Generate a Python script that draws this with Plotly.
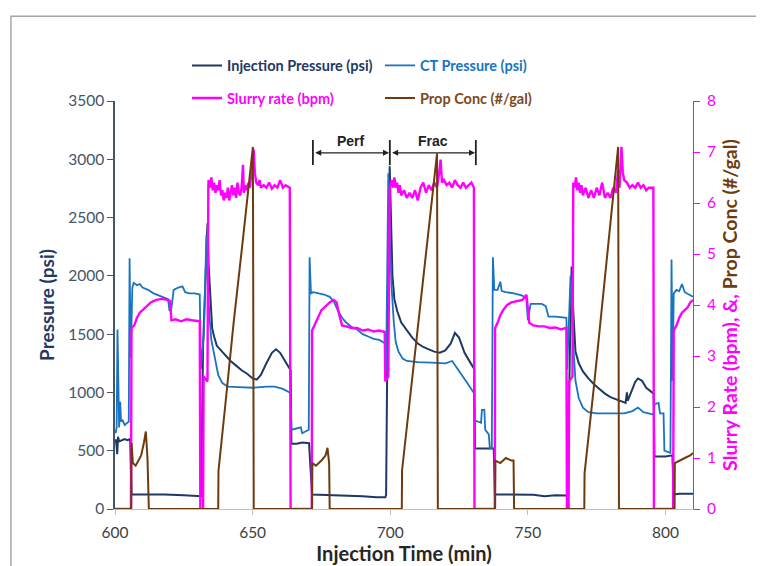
import plotly.graph_objects as go

# ---------------- data ----------------
inj_time = [600.2, 600.5, 600.8, 601.1, 601.5, 602.5, 603.5, 604.5, 605.5, 606.0,
            612, 618, 625, 630.9,
            631.3, 632.0, 633.2, 633.6, 634.0, 634.6, 635.3, 636, 637, 638.5, 640, 642, 644, 646, 648,
            650, 651.5, 653, 655, 657, 658.5, 660, 661.5, 663, 663.8,
            664.1, 666, 668, 670.5, 671.6,
            680, 690, 695, 698.2,
            698.5, 699.0, 699.8, 700.3, 700.8, 701.5, 702.5, 704, 706, 708, 710, 712, 714, 716, 718,
            720, 722, 723.5, 725, 727, 729, 730.5,
            730.8, 733, 736, 737.6, 738.0,
            745, 752, 756, 760, 764.1,
            764.4, 765.3, 765.9, 766.5, 767.3, 768.5, 770, 772, 774, 776, 778, 780, 782, 784, 785.5,
            786, 786.3, 787.5, 789, 790, 791.5, 793, 795.7,
            796, 800, 802.5, 803.0, 805, 810]
inj_psi = [600, 560, 470, 620, 580, 590, 600, 590, 600, 125,
           128, 125, 118, 110,
           110, 1400, 2100, 2450, 2100, 1800, 1550, 1480, 1400, 1360, 1320, 1270, 1230, 1190, 1160,
           1120, 1110, 1150, 1250, 1340, 1370, 1340, 1280, 1220, 1190,
           560, 560, 570, 565, 125,
           120, 110, 100, 100,
           120, 1500, 2940, 2400, 2000, 1800, 1700, 1600, 1530, 1470, 1420, 1390, 1370, 1350, 1340,
           1360, 1420, 1510, 1470, 1340, 1260, 1200,
           520, 520, 520, 520, 125,
           125, 122, 110, 118, 115,
           115, 1400, 2080, 1700, 1350, 1250, 1180, 1120, 1070, 1030, 990, 960, 940, 920, 910,
           1000, 930, 1000, 1090, 1120, 1100, 1040, 990,
           450, 450, 460, 125, 130, 130]

ct_time = [600.2, 600.6, 600.9, 601.2, 601.5, 601.9, 602.2, 602.8, 603.5, 604.5, 605.0, 605.3,
           605.7, 606.3, 606.8, 608, 609, 610, 612, 614, 616, 618, 619.3, 619.8, 620.5, 621.3,
           623, 624.5, 625.5, 627, 629, 630.8, 631.2, 632.3, 633.2, 633.8, 634.3, 635, 636.3,
           637.5, 639, 641, 645, 650, 655, 658, 661, 663.8,
           664.1, 666, 667.5, 668, 670.4, 670.7, 671.2, 672, 674, 676, 678, 679.5, 681, 682.5,
           684, 686, 688, 690, 692, 694, 696, 698.2, 698.5, 699.3, 699.9, 700.5, 701.3, 702,
           703, 704.5, 706, 710, 715, 720, 722.5, 724, 726, 728, 730.4,
           730.6, 733.0, 733.3, 734.2, 734.5, 735.8, 736.2, 736.9, 737.3, 737.8, 739, 740,
           740.5, 742, 745, 748, 749.5, 750, 751, 753, 755, 756.5, 757.5, 760, 764,
           764.3, 765.5, 766, 766.5, 767.3, 768.5, 770, 772, 775, 780, 785, 788, 790, 792, 795.7,
           796, 797.5, 798, 799.3, 799.6, 801.8, 802.2, 802.6, 803.0, 804, 805, 806, 807, 810]
ct_psi = [650, 700, 1540, 850, 700, 920, 750, 760, 720, 740, 750, 2150,
          1300, 1900, 1940, 1920, 1930, 1900, 1880, 1850, 1830, 1810, 1800, 1700, 1720, 1880,
          1900, 1910, 1860, 1850, 1850, 1840, 1200, 1500, 2350, 1900, 1650, 1450, 1300,
          1150, 1080, 1050, 1045, 1040, 1050, 1050, 1030, 995,
          680, 690, 700, 650, 680, 2160, 1850, 1860, 1850, 1840, 1820, 1780, 1700, 1640,
          1600, 1560, 1540, 1500, 1480, 1460, 1450, 1420, 1200, 2880, 2300, 1900, 1600, 1430,
          1350, 1290, 1270, 1260, 1255, 1250, 1270, 1220, 1150, 1080, 995,
          760, 740, 850, 850, 680, 640, 520, 520, 2160, 1880, 1880, 1950,
          1870, 1860, 1850, 1830, 1800, 1620, 1760, 1760, 1760, 1740, 1650, 1650, 1640,
          1200, 2000, 1700, 1400, 1100, 950, 870, 830, 820, 820, 820, 840, 870, 830, 810,
          900, 910, 820, 820, 500, 480, 2140, 1100, 1850, 1880, 1870, 1930, 1860, 1820]

slurry_time = [600, 605.8, 606.0, 607, 608, 609, 611, 613, 615, 617, 619, 620, 620.5, 622, 624,
               626, 628, 630.8, 631.0, 632.0, 632.2, 633.6, 633.9,
               634.0, 634.5, 635, 635.5, 636, 636.5, 637, 637.5, 638, 638.5, 639, 639.5, 640,
               640.5, 641, 641.5, 642, 642.5, 643, 643.5, 644, 644.5, 645, 645.5, 646, 646.5,
               646.8, 647.5, 648, 648.5, 649, 649.5, 650.0, 650.4, 650.8, 651.3, 652, 652.5, 653,
               654, 655, 656, 657, 658, 659, 660, 661, 662, 663.5, 663.8,
               671.5, 671.6, 672.5, 674, 675, 676, 678, 679.5, 680.5, 681.5, 682.5, 684, 686,
               688, 690, 692, 694, 696, 698.0, 698.2, 699.3, 699.8,
               700.5, 701, 701.5, 702, 702.5, 703, 703.5, 704, 705, 706, 707, 708, 709, 710,
               711, 712, 713, 714, 715, 716, 717, 717.8, 718.3, 718.8, 719.5, 720.5, 721.5,
               722.5, 723.5, 724.5, 725.5, 726.5, 727.5, 728.5, 729.5, 730.4, 730.6,
               738.0, 738.1, 739, 740, 741, 742.5, 744, 746, 748, 749.5, 750, 750.5, 752, 754,
               756, 758, 760, 762, 764.0, 764.2, 764.8, 765.0, 766.2, 766.5,
               767, 767.5, 768, 768.5, 769, 769.5, 770, 771, 772, 773, 774, 775, 776, 777, 778,
               779, 780, 781, 782, 782.8, 783.3, 784.0, 784.5, 785, 786, 787, 788, 789, 790,
               791, 792, 793, 794, 795.6, 795.8,
               802.8, 803.0, 804, 805, 806, 807, 808, 809, 810]
slurry_bpm = [0, 0, 3.55, 3.6, 3.75, 3.85, 3.95, 4.05, 4.1, 4.12, 4.1, 4.08, 3.7, 3.72, 3.68,
              3.72, 3.7, 3.68, 0, 0, 2.6, 2.5, 6.3,
              6.45, 6.3, 6.5, 6.25, 6.4, 6.2, 6.35, 6.25, 6.45, 6.15, 6.25, 6.05, 6.2,
              6.1, 6.3, 6.05, 6.2, 6.35, 6.15, 6.3, 6.1, 6.4, 6.2, 6.15, 6.3, 6.75,
              6.2, 6.35, 6.25, 6.4, 6.3, 6.5, 6.8, 7.05, 6.6, 6.4, 6.35, 6.45, 6.3,
              6.35, 6.3, 6.4, 6.28, 6.35, 6.3, 6.45, 6.3, 6.35, 6.3, 0,
              0, 3.5, 3.6, 3.8, 3.9, 3.95, 4.05, 4.1, 4.05, 3.8, 3.6, 3.58, 3.55,
              3.55, 3.5, 3.52, 3.48, 3.5, 3.47, 2.5, 2.6, 6.3,
              6.45, 6.3, 6.5, 6.3, 6.4, 6.2, 6.35, 6.15, 6.25, 6.1, 6.2, 6.1, 6.25, 6.05,
              6.3, 6.4, 6.2, 6.35, 6.25, 6.4, 6.3, 6.6, 6.85, 6.4, 6.45, 6.35, 6.4,
              6.3, 6.45, 6.35, 6.3, 6.4, 6.3, 6.35, 6.4, 6.3, 0,
              0, 3.55, 3.65, 3.8, 3.9, 4.0, 4.05, 4.08, 4.1, 4.2, 3.9, 3.65, 3.6, 3.58,
              3.58, 3.55, 3.56, 3.52, 3.55, 0, 0, 2.5, 2.6, 6.4,
              6.3, 6.5, 6.25, 6.4, 6.2, 6.35, 6.15, 6.3, 6.1, 6.25, 6.1, 6.3, 6.15, 6.4, 6.1,
              6.2, 6.1, 6.3, 6.2, 6.65, 6.3, 7.1, 6.6, 6.45, 6.4, 6.3, 6.35, 6.3, 6.4,
              6.3, 6.35, 6.25, 6.3, 6.3, 0,
              0, 3.5, 3.6, 3.75, 3.85, 3.9, 3.95, 4.05, 4.1]

prop_time = [600, 605.9, 606.0, 606.5, 607.5, 608.5, 609.5, 610.5, 611.2, 611.8, 612.3,
             637.5, 637.6, 640, 643, 646.5, 650.1, 650.4,
             671.6, 671.7, 673, 675, 676.5, 677.2, 677.8, 678.0,
             704.2, 704.3, 708, 712, 717.0, 717.3,
             738.1, 738.2, 740, 742, 744, 744.8, 745.0,
             770.5, 770.6, 774, 778, 782.8, 783.1,
             803.3, 803.4, 805, 807, 809, 810]
prop_ppg = [0, 0, 1.3, 0.9, 0.85, 0.95, 1.05, 1.3, 1.52, 1.0, 0,
            0, 0.75, 2.0, 3.6, 5.3, 7.1, 0,
            0, 0.9, 0.85, 0.95, 1.05, 1.2, 0.9, 0,
            0, 0.76, 2.6, 4.6, 6.97, 0,
            0, 0.95, 0.9, 1.0, 0.95, 0.95, 0,
            0, 0.7, 2.4, 4.6, 7.1, 0,
            0, 0.9, 0.95, 1.0, 1.05, 1.1]

x_ticks = [600, 650, 700, 750, 800]
stage_names = ["Perf", "Frac"]
stage_edges = [671.9, 699.85, 731.1]

# ---------------- figure ----------------
NAVY = "#1F3864"
CT = "#1874C1"
MAG = "#FF00FF"
BROWN = "#6E3B0E"
FONT = "Lato"

fig = go.Figure()
fig.add_trace(go.Scatter(x=inj_time, y=inj_psi, mode="lines", name="Injection Pressure (psi)",
                         line=dict(color=NAVY, width=2), legend="legend"))
fig.add_trace(go.Scatter(x=ct_time, y=ct_psi, mode="lines", name="CT Pressure (psi)",
                         line=dict(color=CT, width=1.8), legend="legend2"))
fig.add_trace(go.Scatter(x=slurry_time, y=slurry_bpm, mode="lines", name="Slurry rate (bpm)",
                         line=dict(color=MAG, width=2.4), yaxis="y2", legend="legend3"))
fig.add_trace(go.Scatter(x=prop_time, y=prop_ppg, mode="lines", name="Prop Conc (#/gal)",
                         line=dict(color=BROWN, width=2), yaxis="y2", legend="legend4"))

# stage brackets
y_bar0, y_bar1, y_arrow = 2950, 3165, 3055
for xe in stage_edges:
    fig.add_shape(type="line", xref="x", yref="y", x0=xe, x1=xe, y0=y_bar0, y1=y_bar1,
                  line=dict(color="#222222", width=1.8))
for i, nm in enumerate(stage_names):
    a, b = stage_edges[i], stage_edges[i + 1]
    fig.add_annotation(x=b - 0.3, y=y_arrow, ax=a + 0.3, ay=y_arrow, xref="x", yref="y",
                       axref="x", ayref="y", showarrow=True, arrowhead=2, arrowside="end+start",
                       arrowsize=1, arrowwidth=1.2, arrowcolor="#222222", text="")
    fig.add_annotation(x=(a + b) / 2, y=y_arrow, xref="x", yref="y", text="<b>%s</b>" % nm,
                       showarrow=False, yanchor="bottom", yshift=2,
                       font=dict(family="Liberation Sans", size=14, color="#222222"))

# outer frame
fig.add_shape(type="rect", xref="paper", yref="paper", x0=-0.18, x1=1.3, y0=-0.3, y1=1.208,
              line=dict(color="#A6A6A6", width=1.5), layer="below")

def leg(x, y, color):
    return dict(x=x, y=y, xanchor="left", yanchor="middle", orientation="h",
                bgcolor="rgba(0,0,0,0)", font=dict(family=FONT, size=14.5, color=color, weight="bold"),
                itemwidth=30)

fig.update_layout(
    width=756, height=558,
    margin=dict(l=107, r=71, t=93, b=57, autoexpand=False),
    paper_bgcolor="white", plot_bgcolor="white",
    font=dict(family=FONT),
    showlegend=True,
    legend=leg(0.1246, 1.087, NAVY),
    legend2=leg(0.4585, 1.087, CT),
    legend3=leg(0.1246, 1.007, MAG),
    legend4=leg(0.4585, 1.007, "#7B4A1E"),
    xaxis=dict(range=[600, 810], tickvals=x_ticks, showgrid=False, zeroline=False,
               showline=True, linecolor="#BFBFBF", linewidth=1.2, ticks="outside", ticklen=5,
               tickcolor="#BFBFBF", ticklabelstandoff=4, automargin=False,
               tickfont=dict(family=FONT, size=15.5, color="#404040"),
               title=dict(text="<b>Injection Time (min)</b>", standoff=3,
                          font=dict(family=FONT, size=20, color="#262626"))),
    yaxis=dict(range=[0, 3500], dtick=500, showgrid=False, zeroline=False,
               showline=True, linecolor="#44546A", linewidth=1.5, ticks="outside", ticklen=6,
               tickcolor="#44546A", automargin=False,
               tickfont=dict(family=FONT, size=15.5, color="#44546A"),
               title=dict(text="<b>Pressure (psi)</b>", standoff=9,
                          font=dict(family=FONT, size=19, color=NAVY))),
    yaxis2=dict(range=[0, 8], dtick=1, overlaying="y", side="right", showgrid=False,
                zeroline=False, showline=True, linecolor=MAG, linewidth=1, ticks="outside",
                ticklen=6, tickcolor=MAG, ticklabelstandoff=4, automargin=False,
                tickfont=dict(family=FONT, size=15.5, color=MAG),
                title=dict(text="<b><span style='color:#FF00FF'>Slurry Rate (bpm), &amp;, </span>"
                                "<span style='color:#6E3B0E'>Prop Conc (#/gal)</span></b>",
                           standoff=8, font=dict(family=FONT, size=19.5, color=MAG))),
)

fig.write_html("out.html")
